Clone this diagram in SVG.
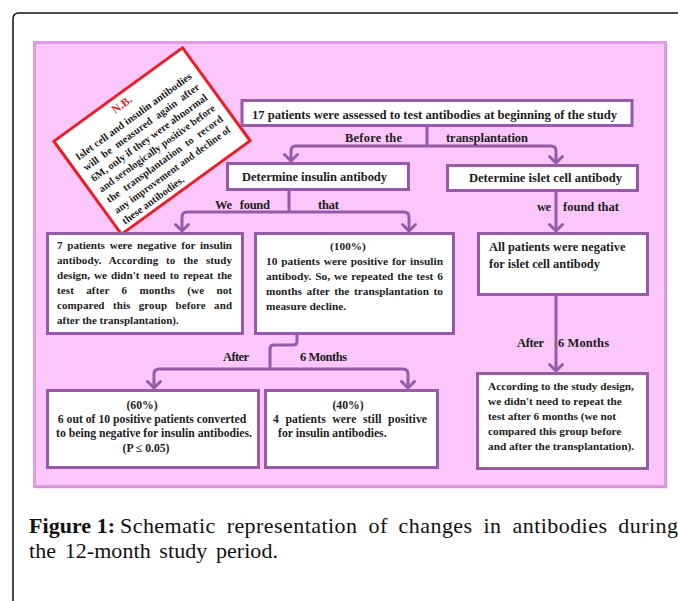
<svg xmlns="http://www.w3.org/2000/svg" width="678" height="601" viewBox="0 0 678 601">
<style>
.t{font-family:"Liberation Serif","Times New Roman",serif;font-weight:bold;fill:#1c1c1c}
.box{fill:#ffffff;stroke:#965aa6;stroke-width:3}
.con{fill:none;stroke:#965aa6;stroke-width:3;stroke-linejoin:round}
.cap{font-family:"Liberation Serif","Times New Roman",serif;fill:#111;font-size:22px}
</style>
<defs>
<marker id="ah" markerUnits="userSpaceOnUse" viewBox="-9 -9 18 18" refX="0" refY="0" markerWidth="18" markerHeight="18" orient="auto">
<path d="M-6.5,-6.5 L0,0 L-6.5,6.5" fill="none" stroke="#965aa6" stroke-width="3" stroke-linecap="round" stroke-linejoin="round"/>
</marker>
</defs>
<rect width="678" height="601" fill="#ffffff"/>
<path d="M13,601 V19 Q13,13 19,13 H678" fill="none" stroke="#111" stroke-width="1.5"/>
<rect x="34.5" y="42.5" width="631" height="444" fill="#fbc7fb" stroke="#e39ae6" stroke-width="3"/>
<path d="M36,487.5 H666.5 V44" fill="none" stroke="#c79ac9" stroke-width="1.5"/>

<g id="connectors">
<path class="con" d="M427,126 V146"/>
<path class="con" d="M427,146 H296 Q291,146 291,151 V161" marker-end="url(#ah)"/>
<path class="con" d="M427,146 H551 Q556,146 556,151 V163" marker-end="url(#ah)"/>
<path class="con" d="M289,190 V212"/>
<path class="con" d="M289,212 H187 Q182,212 182,217 V231" marker-end="url(#ah)"/>
<path class="con" d="M289,212 H404 Q409,212 409,217 V231" marker-end="url(#ah)"/>
<path class="con" d="M556,191 V231" marker-end="url(#ah)"/>
<path class="con" d="M297,334 V341 Q297,345 293,345 H274 Q270,345 270,349 V369"/>
<path class="con" d="M270,369 H159 Q154,369 154,374 V388" marker-end="url(#ah)"/>
<path class="con" d="M270,369 H403 Q408,369 408,374 V388" marker-end="url(#ah)"/>
<path class="con" d="M556,295 V371" marker-end="url(#ah)"/>
<text class="t" font-size="12.5" x="345" y="142" textLength="57">Before the</text>
<text class="t" font-size="12.5" x="446" y="142" textLength="82">transplantation</text>
<text class="t" font-size="12.5" x="215" y="209" word-spacing="5" textLength="55">We found</text>
<text class="t" font-size="12.5" x="318" y="209" textLength="21">that</text>
<text class="t" font-size="12.5" x="537" y="211" textLength="14">we</text>
<text class="t" font-size="12.5" x="563" y="211" textLength="56">found that</text>
<text class="t" font-size="12.5" x="223" y="361" textLength="26">After</text>
<text class="t" font-size="12.5" x="300" y="361" textLength="47">6 Months</text>
<text class="t" font-size="12.5" x="517" y="347" textLength="27">After</text>
<text class="t" font-size="12.5" x="558" y="347" textLength="51">6 Months</text>
</g>

<g id="nb" transform="translate(152,141) rotate(-36)">
<rect x="-79.5" y="-57.5" width="159" height="115" fill="#ffffff" stroke="#ee1c24" stroke-width="3"/>
<text class="t" font-size="11.5" x="-3" y="-43.5" text-anchor="middle" style="fill:#ee1c24">N.B.</text>
<text class="t" font-size="10.5" x="-71" y="-27.3" textLength="141" lengthAdjust="spacingAndGlyphs">Islet cell and insulin antibodies</text>
<text class="t" font-size="10.5" x="-71" y="-14.1" word-spacing="3" textLength="141">will be measured again after</text>
<text class="t" font-size="10.5" x="-71" y="-0.9" textLength="141" lengthAdjust="spacingAndGlyphs">6M, only if they were abnormal</text>
<text class="t" font-size="10.5" x="-71" y="12.3" textLength="141" lengthAdjust="spacingAndGlyphs">and serologically positive before</text>
<text class="t" font-size="10.5" x="-71" y="25.5" word-spacing="3.2" textLength="141">the transplantation to record</text>
<text class="t" font-size="10.5" x="-71" y="38.7" textLength="141" lengthAdjust="spacingAndGlyphs">any improvement and decline of</text>
<text class="t" font-size="10.5" x="-71" y="51.9">these antibodies.</text>
</g>

<g id="top">
<rect class="box" x="242" y="100.5" width="390" height="25"/>
<text class="t" font-size="12.5" x="252" y="119" textLength="365" lengthAdjust="spacingAndGlyphs">17 patients were assessed to test antibodies at beginning of the study</text>
</g>

<g id="insulin">
<rect class="box" x="227.5" y="163.5" width="181" height="26"/>
<text class="t" font-size="12.5" x="242" y="181" textLength="145">Determine insulin antibody</text>
</g>

<g id="islet">
<rect class="box" x="447.5" y="165.5" width="190" height="25"/>
<text class="t" font-size="12.5" x="469" y="182" textLength="153">Determine islet cell antibody</text>
</g>

<g id="neg7">
<rect class="box" x="47.5" y="233.5" width="195" height="100"/>
<text class="t" font-size="11" x="57" y="249" word-spacing="2" textLength="175" lengthAdjust="spacingAndGlyphs">7 patients were negative for insulin</text>
<text class="t" font-size="11" x="57" y="264" word-spacing="5" textLength="175">antibody. According to the study</text>
<text class="t" font-size="11" x="57" y="279" word-spacing="1.3" textLength="175" lengthAdjust="spacingAndGlyphs">design, we didn't need to repeat the</text>
<text class="t" font-size="11" x="57" y="294" word-spacing="9.5" textLength="175">test after 6 months (we not</text>
<text class="t" font-size="11" x="57" y="309" word-spacing="5.5" textLength="175">compared this group before and</text>
<text class="t" font-size="11" x="57" y="324">after the transplantation).</text>
</g>

<g id="pos10">
<rect class="box" x="255.5" y="233.5" width="198" height="100"/>
<text class="t" font-size="11.3" x="348" y="250" text-anchor="middle">(100%)</text>
<text class="t" font-size="11.3" x="266" y="264.5" word-spacing="1" textLength="177" lengthAdjust="spacingAndGlyphs">10 patients were positive for insulin</text>
<text class="t" font-size="11.3" x="266" y="279.5" word-spacing="1" textLength="177" lengthAdjust="spacingAndGlyphs">antibody. So, we repeated the test 6</text>
<text class="t" font-size="11.3" x="266" y="294.5" word-spacing="1.7" textLength="177">months after the transplantation to</text>
<text class="t" font-size="11.3" x="266" y="309.5">measure decline.</text>
</g>

<g id="islneg">
<rect class="box" x="478.5" y="233.5" width="169" height="61"/>
<text class="t" font-size="12.4" x="489" y="251">All patients were negative</text>
<text class="t" font-size="12.4" x="489" y="268">for islet cell antibody</text>
</g>

<g id="islnorepeat">
<rect class="box" x="477.5" y="373.5" width="170" height="95"/>
<text class="t" font-size="11.3" x="488" y="390">According to the study design,</text>
<text class="t" font-size="11.3" x="488" y="405">we didn't need to repeat the</text>
<text class="t" font-size="11.3" x="488" y="420">test after 6 months (we not</text>
<text class="t" font-size="11.3" x="488" y="435">compared this group before</text>
<text class="t" font-size="11.3" x="488" y="450">and after the transplantation).</text>
</g>

<g id="conv60">
<rect class="box" x="47.5" y="390.5" width="211" height="77"/>
<text class="t" font-size="11.7" x="142" y="409" text-anchor="middle">(60%)</text>
<text class="t" font-size="11.7" x="152" y="423" text-anchor="middle">6 out of 10 positive patients converted</text>
<text class="t" font-size="11.7" x="154" y="437" text-anchor="middle">to being negative for insulin antibodies.</text>
<text class="t" font-size="11.7" x="146" y="452" text-anchor="middle">(P ≤ 0.05)</text>
</g>

<g id="pos40">
<rect class="box" x="265.5" y="390.5" width="172" height="77"/>
<text class="t" font-size="11.7" x="348" y="409" text-anchor="middle">(40%)</text>
<text class="t" font-size="11.7" x="273" y="423" word-spacing="3.5" textLength="154">4 patients were still positive</text>
<text class="t" font-size="11.7" x="278" y="437">for insulin antibodies.</text>
</g>

<g id="caption">
<text class="cap" x="29" y="533" font-weight="bold" textLength="86">Figure 1:</text>
<text class="cap" x="120" y="533" word-spacing="5" textLength="558">Schematic representation of changes in antibodies during</text>
<text class="cap" x="29" y="558" word-spacing="3" textLength="249">the 12-month study period.</text>
</g>
</svg>
